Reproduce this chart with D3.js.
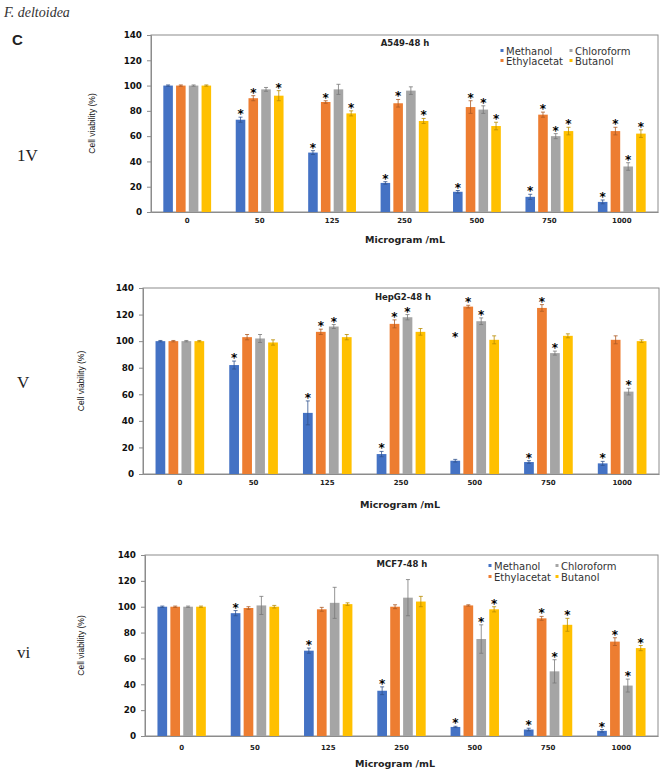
<!DOCTYPE html>
<html><head><meta charset="utf-8">
<script src="https://cdn.jsdelivr.net/npm/d3@7"></script>
<style>body{margin:0;background:#fff}svg{display:block}</style>
</head><body>
<script>
// ---------- DATA ----------
const categories = ["0","50","125","250","500","750","1000"];
const seriesNames = ["Methanol","Ethylacetat","Chloroform","Butanol"];
const seriesColors = ["#4472C4","#ED7D31","#A5A5A5","#FFC000"];
const yTicks = [0,20,40,60,80,100,120,140];

// A549-48 h
const a549Methanol = [100,73,47,23,16,12,8];
const a549Ethyl    = [100,90,87,86,83,77,64];
const a549Chloro   = [100,97,97,96,81,60,36];
const a549Butanol  = [100,92,78,72,68,64,62];
const a549MethanolErr = [0.5,2,1.5,1,1,2,1.5];
const a549EthylErr    = [0.5,2,1,3,5,2,3];
const a549ChloroErr   = [0.5,1.5,4,3,3,2,3];
const a549ButanolErr  = [0.5,4,2,2,3,3,3];
const a549MethanolSig = [0,1,1,1,1,1,1];
const a549EthylSig    = [0,1,1,1,1,1,1];
const a549ChloroSig   = [0,0,0,0,1,1,1];
const a549ButanolSig  = [0,1,1,1,1,1,1];

// HepG2-48 h
const hepg2Methanol = [100,82,46,15,10,9,8];
const hepg2Ethyl    = [100,103,107,113,126,125,101];
const hepg2Chloro   = [100,102,111,118,115,91,62];
const hepg2Butanol  = [100,99,103,107,101,104,100];
const hepg2MethanolErr = [0.5,3,9,2,1,1,1.5];
const hepg2EthylErr    = [0.5,2,2,3,1,2.5,3];
const hepg2ChloroErr   = [0.5,3,1.5,2,2.5,1.5,2.5];
const hepg2ButanolErr  = [0.5,2,2,2.5,3,1.5,1];
const hepg2MethanolSig = [0,1,1,1,1,1,1];
const hepg2EthylSig    = [0,0,1,1,1,1,0];
const hepg2ChloroSig   = [0,0,1,1,1,1,1];
const hepg2ButanolSig  = [0,0,0,0,0,0,0];
const hepg2MethanolStarAnchor = [null,null,null,null,101,null,null];

// MCF7-48 h
const mcf7Methanol = [100,95,66,35,7,5,4];
const mcf7Ethyl    = [100,99,98,100,101,91,73];
const mcf7Chloro   = [100,101,103,107,75,50,39];
const mcf7Butanol  = [100,100,102,104,98,86,68];
const mcf7MethanolErr = [0.5,2,2,3,0.5,1,1];
const mcf7EthylErr    = [0.5,1,1.5,1.5,0.5,1.5,3];
const mcf7ChloroErr   = [0.5,7,12,14,11,9,5];
const mcf7ButanolErr  = [0.5,1,1,4,2,5,2];
const mcf7MethanolSig = [0,1,1,1,1,1,1];
const mcf7EthylSig    = [0,0,0,0,0,1,1];
const mcf7ChloroSig   = [0,0,0,0,1,1,1];
const mcf7ButanolSig  = [0,0,0,0,1,1,1];

// ---------- DRAW ----------
const W = 664, H = 772;
const svg = d3.select("body").append("svg").attr("width", W).attr("height", H);

svg.append("text").attr("x", 4).attr("y", 17)
  .attr("font-family", "Liberation Serif").attr("font-style", "italic")
  .attr("font-size", 14).attr("fill", "#333").text("F. deltoidea");
svg.append("text").attr("x", 12).attr("y", 45)
  .attr("font-family", "Liberation Sans").attr("font-weight", "bold")
  .attr("font-size", 15).attr("fill", "#222").text("C");

const romanFont = "Liberation Serif";
[["1V", 17, 161], ["V", 17, 388], ["vi", 17, 658]].forEach(([t, x, y]) => {
  svg.append("text").attr("x", x).attr("y", y).attr("font-family", romanFont)
    .attr("font-size", 17).attr("fill", "#222").text(t);
});

function drawPanel(p) {
  const g = svg.append("g");
  const x0 = d3.scaleBand().domain(categories).range([p.left, p.right])
    .paddingInner(0.34).paddingOuter(0.17);
  const x1 = d3.scaleBand().domain(seriesNames).range([0, x0.bandwidth()])
    .paddingInner(0.25);
  const y = d3.scaleLinear().domain([0, 140]).range([p.bottom, p.top]);
  const axisColor = "#8c8c8c";

  // frame
  g.append("rect").attr("x", p.left).attr("y", p.top)
    .attr("width", p.right - p.left).attr("height", p.bottom - p.top)
    .attr("fill", "none").attr("stroke", axisColor).attr("stroke-width", 1);

  // y axis
  const ya = g.append("g").attr("transform", `translate(${p.left},0)`)
    .call(d3.axisLeft(y).tickValues(yTicks).tickSize(4).tickPadding(5));
  ya.select(".domain").attr("stroke", axisColor);
  ya.selectAll(".tick line").attr("stroke", axisColor);
  ya.selectAll("text").attr("font-family", "DejaVu Sans").attr("font-weight", "bold")
    .attr("font-size", 8.8).attr("fill", "#111");

  // x axis
  const xa = g.append("g").attr("transform", `translate(0,${p.bottom})`)
    .call(d3.axisBottom(x0).tickSize(0).tickPadding(p.xPad));
  xa.select(".domain").attr("stroke", axisColor);
  xa.selectAll("text").attr("font-family", "DejaVu Sans").attr("font-weight", "bold")
    .attr("font-size", 7).attr("fill", "#222");

  // bars
  p.series.forEach((s, si) => {
    const name = seriesNames[si];
    const col = seriesColors[si];
    const ec = d3.color(col).darker(0.9).formatHex();
    const grp = g.append("g");
    categories.forEach((c, ci) => {
      const v = s.values[ci], e = s.err[ci];
      const bx = x0(c) + x1(name), bw = x1.bandwidth();
      grp.append("rect").attr("x", bx).attr("y", y(v))
        .attr("width", bw).attr("height", y(0) - y(v)).attr("fill", col);
      const cx = bx + bw / 2;
      grp.append("line").attr("x1", cx).attr("x2", cx).attr("y1", y(v - e)).attr("y2", y(v + e))
        .attr("stroke", ec).attr("stroke-width", 0.8);
      [v - e, v + e].forEach(ev => grp.append("line").attr("x1", cx - 2).attr("x2", cx + 2)
        .attr("y1", y(ev)).attr("y2", y(ev)).attr("stroke", ec).attr("stroke-width", 0.8));
      const anchor = s.anchor && s.anchor[ci] != null ? s.anchor[ci] : (s.sig[ci] ? v + e : null);
      if (anchor != null) {
        g.append("text").attr("x", cx).attr("y", y(anchor) + 1)
          .attr("text-anchor", "middle").attr("font-family", "DejaVu Sans")
          .attr("font-weight", "bold").attr("font-size", 12).attr("fill", "#000").text("*");
      }
    });
  });

  // title
  g.append("text").attr("x", p.titleX).attr("y", p.titleY).attr("text-anchor", "middle")
    .attr("font-family", "DejaVu Sans").attr("font-weight", "bold").attr("font-size", 8.5)
    .attr("fill", "#222").text(p.title);

  // axis titles
  g.append("text").attr("x", p.xTitleX).attr("y", p.xTitleY).attr("text-anchor", "middle")
    .attr("font-family", "DejaVu Sans").attr("font-weight", "bold").attr("font-size", 9.5)
    .attr("fill", "#222").text("Microgram /mL");
  g.append("text").attr("transform", `translate(${p.yTitleX},${(p.top + p.bottom) / 2}) rotate(-90)`)
    .attr("text-anchor", "middle").attr("font-family", "Liberation Sans").attr("font-size", 8.5)
    .attr("fill", "#111").text("Cell viability (%)");

  // legend
  if (p.legend) {
    const L = p.legend;
    const pos = [[0,0],[0,1],[1,0],[1,1]]; // Methanol, Ethylacetat, Chloroform, Butanol
    seriesNames.forEach((n, i) => {
      const lx = L.x + pos[i][0] * L.colW, ly = L.y + pos[i][1] * L.rowH;
      g.append("rect").attr("x", lx - 1.5).attr("y", ly - 3).attr("width", 3).attr("height", 3)
        .attr("fill", seriesColors[i]);
      g.append("text").attr("x", lx + 4).attr("y", ly + 3).attr("font-family", "DejaVu Sans")
        .attr("font-size", L.fs).attr("fill", "#333").text(n);
    });
  }
}

drawPanel({
  left: 151, right: 658, top: 35, bottom: 212, xPad: 6,
  title: "A549-48 h", titleX: 405, titleY: 46,
  xTitleX: 405, xTitleY: 243, yTitleX: 95,
  legend: { x: 502, y: 52, colW: 69, rowH: 10, fs: 10 },
  series: [
    { values: a549Methanol, err: a549MethanolErr, sig: a549MethanolSig },
    { values: a549Ethyl, err: a549EthylErr, sig: a549EthylSig },
    { values: a549Chloro, err: a549ChloroErr, sig: a549ChloroSig },
    { values: a549Butanol, err: a549ButanolErr, sig: a549ButanolSig }
  ]
});

drawPanel({
  left: 143, right: 659, top: 288, bottom: 474, xPad: 6,
  title: "HepG2-48 h", titleX: 403, titleY: 300,
  xTitleX: 400, xTitleY: 508, yTitleX: 84,
  legend: null,
  series: [
    { values: hepg2Methanol, err: hepg2MethanolErr, sig: hepg2MethanolSig, anchor: hepg2MethanolStarAnchor },
    { values: hepg2Ethyl, err: hepg2EthylErr, sig: hepg2EthylSig },
    { values: hepg2Chloro, err: hepg2ChloroErr, sig: hepg2ChloroSig },
    { values: hepg2Butanol, err: hepg2ButanolErr, sig: hepg2ButanolSig }
  ]
});

drawPanel({
  left: 145, right: 658, top: 555, bottom: 736, xPad: 9,
  title: "MCF7-48 h", titleX: 402, titleY: 567,
  xTitleX: 395, xTitleY: 767, yTitleX: 84,
  legend: { x: 490, y: 567, colW: 67, rowH: 11, fs: 10 },
  series: [
    { values: mcf7Methanol, err: mcf7MethanolErr, sig: mcf7MethanolSig },
    { values: mcf7Ethyl, err: mcf7EthylErr, sig: mcf7EthylSig },
    { values: mcf7Chloro, err: mcf7ChloroErr, sig: mcf7ChloroSig },
    { values: mcf7Butanol, err: mcf7ButanolErr, sig: mcf7ButanolSig }
  ]
});
</script>
</body></html>
